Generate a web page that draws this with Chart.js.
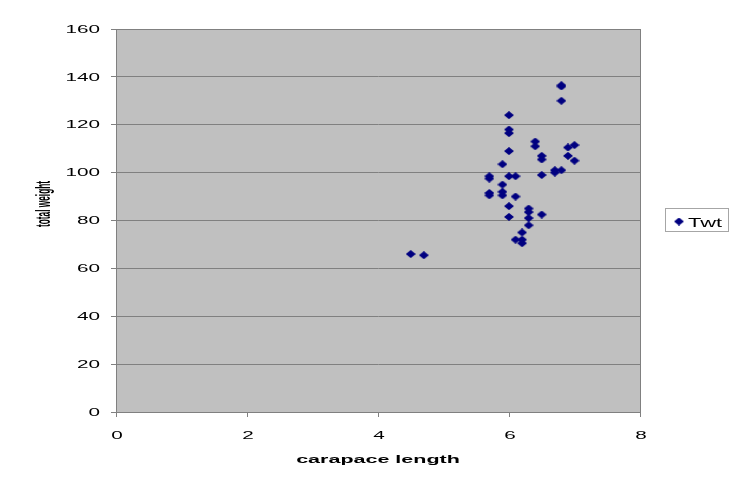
<!DOCTYPE html>
<html lang="en">
  <head>
    <meta charset="UTF-8" />
    <style>
      html, body { margin: 0; padding: 0; background: #fff; }
      #wrap { width: 750px; height: 499px; position: relative; }
    </style>
  </head>
  <body>
    <div id="wrap"><canvas id="myChart"></canvas></div>
    <script src="https://cdn.jsdelivr.net/npm/chart.js@4.4.0/dist/chart.umd.min.js"></script>

    <script>
      // values
      var seriesName = "Twt";
      var xTitle = "carapace length";
      var yTitle = "total weight";
      var carapaceLength = [4.5, 4.7, 5.7, 5.7, 5.7, 5.7, 5.9, 5.9, 5.9, 5.9, 6.0, 6.0, 6.0, 6.0,
        6.0, 6.0, 6.0, 6.1, 6.1, 6.1, 6.2, 6.2, 6.2, 6.3, 6.3, 6.3, 6.3, 6.4, 6.4, 6.5, 6.5,
        6.5, 6.5, 6.7, 6.7, 6.8, 6.8, 6.8, 6.8, 6.9, 6.9, 7.0, 7.0];
      var totalWeight = [66, 65.5, 98.5, 97.5, 91.5, 90.5, 103.5, 95, 92, 90.5, 124, 118, 116.5, 109,
        98.5, 86, 81.5, 98.5, 90, 72, 75, 72, 70.5, 85, 83.5, 81, 78, 113, 111, 107, 105.5,
        99, 82.5, 101, 100, 136.5, 136, 130, 101, 110.5, 107, 111.5, 105];
      var xTicks = [0, 2, 4, 6, 8];
      var yTicks = [0, 20, 40, 60, 80, 100, 120, 140, 160];

      var points = carapaceLength.map(function (x, i) {
        return { x: x, y: totalWeight[i] };
      });

      // squat diamond marker like the old spreadsheet chart
      var marker = document.createElement("canvas");
      marker.width = 10;
      marker.height = 8;
      var m = marker.getContext("2d");
      m.fillStyle = "#000080";
      m.beginPath();
      m.moveTo(5, 0);
      m.lineTo(10, 4);
      m.lineTo(5, 8);
      m.lineTo(0, 4);
      m.closePath();
      m.fill();

      function wideText(ctx, text, x, y, font, sx, align, base) {
        ctx.save();
        ctx.font = font;
        ctx.textAlign = align;
        ctx.textBaseline = base;
        ctx.fillStyle = "#000";
        ctx.translate(x, y);
        ctx.scale(sx, 1);
        ctx.fillText(text, 0, 0);
        ctx.restore();
      }

      var plotBox = {
        id: "plotBox",
        beforeDraw: function (chart) {
          var a = chart.chartArea, ctx = chart.ctx;
          ctx.save();
          ctx.fillStyle = "#c0c0c0";
          ctx.fillRect(a.left, a.top, a.right - a.left, a.bottom - a.top);
          ctx.restore();
        },
        afterDraw: function (chart) {
          var a = chart.chartArea, ctx = chart.ctx;
          var xs = chart.scales.x, ys = chart.scales.y;
          ctx.save();
          ctx.strokeStyle = "#808080";
          ctx.lineWidth = 1;
          ctx.strokeRect(Math.round(a.left) + 0.5, Math.round(a.top) + 0.5,
            Math.round(a.right - a.left), Math.round(a.bottom - a.top));
          ctx.restore();

          var tickFont = "11.5px 'Liberation Sans', Arial, sans-serif";
          ys.ticks.forEach(function (t) {
            wideText(ctx, String(t.value), 100, ys.getPixelForValue(t.value) + 0.5, tickFont, 1.8, "right", "middle");
          });
          xs.ticks.forEach(function (t) {
            wideText(ctx, String(t.value), xs.getPixelForValue(t.value) + 1, 430, tickFont, 1.8, "center", "top");
          });

          wideText(ctx, xTitle, (a.left + a.right) / 2, 463,
            "bold 11.5px 'Liberation Sans', Arial, sans-serif", 1.87, "center", "alphabetic");

          // rotated title: squeezed along its length, thick across
          ctx.save();
          ctx.font = "bold 20px 'Liberation Sans', Arial, sans-serif";
          var squeeze = 46 / ctx.measureText(yTitle).width;
          ctx.translate(44, 204);
          ctx.rotate(-Math.PI / 2);
          ctx.scale(squeeze, 1);
          ctx.textAlign = "center";
          ctx.textBaseline = "middle";
          ctx.fillStyle = "#000";
          ctx.fillText(yTitle, 0, 0);
          ctx.restore();

          // legend box
          ctx.save();
          ctx.strokeStyle = "#a6a6a6";
          ctx.strokeRect(665.5, 208.5, 63, 23);
          ctx.drawImage(marker, 674, 217.5);
          ctx.restore();
          wideText(ctx, chart.data.datasets[0].label, 688, 226.5,
            "12.5px 'Liberation Sans', Arial, sans-serif", 1.75, "left", "alphabetic");
        },
      };

      var ctx = document.getElementById("myChart").getContext("2d");
      var chart = new Chart(ctx, {
        type: "scatter",
        data: {
          datasets: [
            {
              label: seriesName,
              data: points,
              pointStyle: marker,
              pointRadius: 5,
              pointHoverRadius: 5,
            },
          ],
        },
        options: {
          responsive: true,
          maintainAspectRatio: false,
          animation: false,
          events: [],
          layout: { padding: { top: 29, right: 110, left: 0, bottom: 0 } },
          plugins: {
            legend: { display: false },
            tooltip: { enabled: false },
          },
          scales: {
            x: {
              type: "linear",
              min: 0,
              max: 8,
              afterBuildTicks: function (s) {
                s.ticks = xTicks.map(function (v) { return { value: v }; });
              },
              afterFit: function (s) { s.height = 87; },
              grid: { drawOnChartArea: false, color: "#808080", tickLength: 5 },
              border: { color: "#808080" },
              ticks: { color: "rgba(0,0,0,0)", font: { size: 12 } },
            },
            y: {
              min: 0,
              max: 160,
              afterBuildTicks: function (s) {
                s.ticks = yTicks.map(function (v) { return { value: v }; });
              },
              afterFit: function (s) { s.width = 116; },
              grid: { color: "#808080", tickLength: 5 },
              border: { color: "#808080" },
              ticks: { color: "rgba(0,0,0,0)", font: { size: 12 } },
            },
          },
        },
        plugins: [plotBox],
      });
    </script>
  </body>
</html>
